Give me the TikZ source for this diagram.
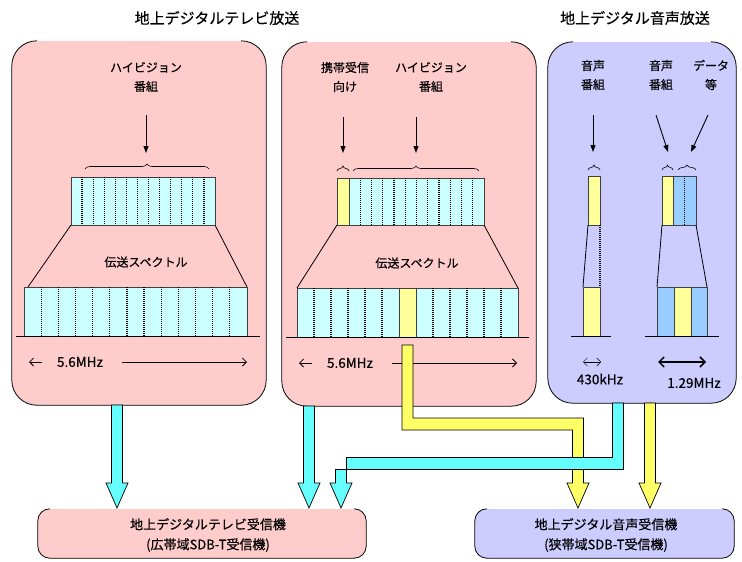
\documentclass[tikz,border=0pt]{standalone}
\usepackage{fontspec}
\setmainfont{Noto Sans CJK JP}[FakeBold=0.35]
\usetikzlibrary{arrows.meta,calc,decorations.pathreplacing}
\definecolor{pinkbox}{HTML}{FFCCCC}
\definecolor{bluebox}{HTML}{CCCCFF}
\definecolor{cyanblk}{HTML}{CCFFFF}
\definecolor{cyanarr}{HTML}{66FFFF}
\definecolor{yelblk}{HTML}{FFFF99}
\definecolor{yelarr}{HTML}{FFFF66}
\definecolor{blublk}{HTML}{99CCFF}
\tikzset{
 panel/.style={inner sep=0pt, draw=none, rounded corners=25pt},
 rxbox/.style={inner sep=0pt, draw=none, rounded corners=12pt},
 lbl/.style={font=\fontsize{12}{19}\selectfont, align=center, inner sep=0pt},
 flbl/.style={font=\fontsize{13.5}{16}\selectfont, inner sep=0pt},
 rxlbl/.style={font=\fontsize{13}{20}\selectfont, align=center, inner sep=0pt},
 ttl/.style={font=\fontsize{15}{18}\selectfont, inner sep=0pt},
 blk/.style={draw=black!75, line width=0.6pt},
 sepline/.style={line width=1.2pt, dash pattern=on 1pt off 1pt},
 trap/.style={line width=0.8pt},
 baseln/.style={line width=0.8pt},
 feed/.style={line width=0.9pt, -{Triangle[length=7pt,width=5pt]}},
 brc/.style={decorate, decoration={brace, amplitude=5pt}, line width=0.6pt},
 band/.style={draw=black, line width=0.7pt},
 freq/.style={line width=0.8pt, -{Straight Barb[length=4pt,width=8pt]}},
}
\newcommand\rimline[2]{\draw[line width=0.8pt, rounded corners=#2] ($(#1.north west)+(#2,0)$) -- (#1.north west) -- (#1.south west) -- (#1.south east) -- (#1.north east) -- ($(#1.north east)+(-#2,0)$);}
\newcommand\dnarrow[3]{\filldraw[band, fill=#3] ($(#1)+(-5.5,0)$) -- ($(#2)+(-5.5,-25)$) -- ($(#2)+(-11,-25)$) -- (#2) -- ($(#2)+(11,-25)$) -- ($(#2)+(5.5,-25)$) -- ($(#1)+(5.5,0)$) -- cycle;}
\begin{document}
\begin{tikzpicture}[x=1pt,y=-1pt]
\useasboundingbox (0,0) rectangle (742,562);
\fill[white] (0,0) rectangle (742,562);
% titles
\node[ttl] (t1) at (217,18) {地上デジタルテレビ放送};
\node[ttl] (t2) at (635,18) {地上デジタル音声放送};
% panels
\node[panel, fill=pinkbox, minimum width=254pt, minimum height=364pt] (tv) at (139,223) {};
\node[panel, fill=pinkbox, minimum width=254pt, minimum height=364pt] (hd) at (409,224) {};
\node[panel, fill=bluebox, minimum width=188pt, minimum height=361pt] (sound) at (642,222.5) {};
\node[rxbox, fill=pinkbox, minimum width=328pt, minimum height=49pt] (rxtv) at (202,533.5) {};
\node[rxbox, fill=bluebox, minimum width=259pt, minimum height=49pt] (rxsd) at (604.5,533.5) {};
\rimline{tv}{25pt}
\rimline{hd}{25pt}
\rimline{sound}{25pt}
\rimline{rxtv}{12pt}
\rimline{rxsd}{12pt}
% labels
\node[lbl] (l1) at (146,77) {ハイビジョン\\番組};
\node[lbl] (l2) at (345,77) {携帯受信\\向け};
\node[lbl] (l3) at (431,77) {ハイビジョン\\番組};
\node[lbl] (l4) at (593,75) {音声\\番組};
\node[lbl] (l5) at (661,75) {音声\\番組};
\node[lbl] (l6) at (711,75) {データ\\等};
% feed arrows
\draw[feed] (146,115) -- (146,153);
\draw[feed] (343,117) -- (343,153);
\draw[feed] (416,117) -- (416,153);
\draw[feed] (593,115) -- (593,152);
\draw[feed] (656,115) -- (668,152);
\draw[feed] (708,115) -- (691,152);
% braces
\draw[brc] (85,169) -- (209,169);
\draw[brc] (337,171) -- (349,171);
\draw[brc] (353,171) -- (479,171);
\draw[brc] (588,170) -- (600,170);
\draw[brc] (662,170) -- (673,170);
\draw[brc] (678,170) -- (696,170);
% panel 1 spectrum
\filldraw[blk, fill=cyanblk] (71,177) rectangle (215,225);
\foreach \k in {1,...,12} \draw[sepline] ({71+\k*144/13},177) -- ({71+\k*144/13},225);
\draw[trap] (71,225) -- (28,287);
\draw[trap] (215,225) -- (247,287);
\filldraw[blk, fill=cyanblk] (24,287) rectangle (247,336);
\foreach \k in {1,...,12} \draw[sepline] ({24+\k*223/13},287) -- ({24+\k*223/13},336);
\draw[baseln] (16,336) -- (260,336);
\node[lbl] (s1) at (146,262) {伝送スペクトル};
\node[flbl] (f1) at (80,362) {5.6MHz};
\draw[freq] (42,362) -- (29,362);
\draw[freq] (122,362) -- (247,362);
% panel 2 spectrum
\filldraw[blk, fill=yelblk] (337,178) rectangle (349,225);
\filldraw[blk, fill=cyanblk] (349,178) rectangle (484,225);
\foreach \k in {1,...,11} \draw[sepline] ({349+\k*135/12},178) -- ({349+\k*135/12},225);
\draw[trap] (337,225) -- (297,288);
\draw[trap] (484,225) -- (518,288);
\filldraw[blk, fill=cyanblk] (297,288) rectangle (518,337);
\filldraw[blk, fill=yelblk] (399,288) rectangle (416,337);
\foreach \k in {1,2,3,4,5,8,9,10,11,12} \draw[sepline] ({297+\k*17},288) -- ({297+\k*17},337);
\draw[baseln] (286,337) -- (529,337);
\node[lbl] (s2) at (417,263) {伝送スペクトル};
\node[flbl] (f2) at (350,363) {5.6MHz};
\draw[freq] (312,363) -- (299,363);
\draw[freq] (392,363) -- (517,363);
% panel 3 spectra
\filldraw[blk, fill=yelblk] (588,176) rectangle (600,225);
\draw[trap] (588,225) -- (583,287);
\draw[sepline] (600,225) -- (600,287);
\filldraw[blk, fill=yelblk] (583,287) rectangle (600,336);
\draw[baseln] (571,336) -- (611,336);
\filldraw[blk, fill=yelblk] (662,176) rectangle (673,225);
\filldraw[blk, fill=blublk] (673,176) rectangle (696,225);
\draw[sepline] (684.5,176) -- (684.5,225);
\draw[trap] (662,225) -- (657,287);
\draw[trap] (696,225) -- (707,287);
\filldraw[blk, fill=blublk] (657,287) rectangle (674,336);
\filldraw[blk, fill=yelblk] (674,287) rectangle (691,336);
\filldraw[blk, fill=blublk] (691,287) rectangle (707,336);
\draw[baseln] (645,336) -- (719,336);
\draw[line width=0.5pt, {Straight Barb[length=4pt,width=8pt]}-{Straight Barb[length=4pt,width=8pt]}] (583,362) -- (601,362);
\node[flbl] (f3) at (600,379) {430kHz};
\draw[line width=1.5pt, {Straight Barb[length=5pt,width=10pt]}-{Straight Barb[length=5pt,width=10pt]}] (658,362) -- (706,362);
\node[flbl] (f4) at (694,383) {1.29MHz};
% receiver labels
\node[rxlbl] (rt1) at (208,535) {地上デジタルテレビ受信機\\(広帯域SDB-T受信機)};
\node[rxlbl] (rt2) at (606,535) {地上デジタル音声受信機\\(狭帯域SDB-T受信機)};
% block arrows
\coordinate (a1s) at (117,405); \coordinate (a1t) at (117,508);
\coordinate (a2s) at (309,406); \coordinate (a2t) at (309,508);
\coordinate (a3s) at (650,403); \coordinate (a3t) at (650,508);
\dnarrow{a1s}{a1t}{cyanarr}
\dnarrow{a2s}{a2t}{cyanarr}
\dnarrow{a3s}{a3t}{yelarr}
\coordinate (ys) at (407.5,345); \coordinate (yt) at (578,508);
\filldraw[band, fill=yelarr] (402,345) -- (402,430) -- (572.5,430) -- (572.5,483) -- (567,483) -- (yt) -- (589,483) -- (583.5,483) -- (583.5,418) -- (413,418) -- (413,345) -- cycle;
\coordinate (cs) at (618,403); \coordinate (ct) at (341,508);
\filldraw[band, fill=cyanarr] (612.5,403) -- (612.5,457.5) -- (346.5,457.5) -- (346.5,483) -- (352,483) -- (ct) -- (330,483) -- (335.5,483) -- (335.5,469.5) -- (623.5,469.5) -- (623.5,403) -- cycle;
\end{tikzpicture}
\end{document}
